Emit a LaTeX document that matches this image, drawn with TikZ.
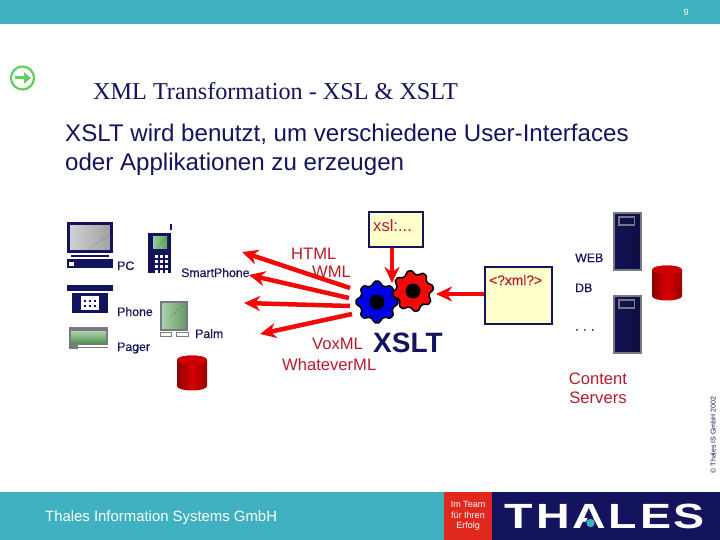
\documentclass[tikz,border=0pt]{standalone}
\usepackage{fontspec}
\setmainfont{Liberation Sans}
\newfontfamily\seriffont{Liberation Serif}
\newfontfamily\semibfont[FakeBold=0.35]{Liberation Sans}
\newfontfamily\logofont[LetterSpace=6]{Liberation Sans Bold}
\usetikzlibrary{arrows.meta,calc}
\definecolor{tealbar}{HTML}{3FB1C1}
\definecolor{navy}{HTML}{14145E}
\definecolor{dred}{HTML}{B81C2C}
\definecolor{aredd}{HTML}{F00A0A}
\definecolor{paleyel}{HTML}{FFFFCC}
\definecolor{footred}{HTML}{E0281E}
\definecolor{midgrey}{HTML}{787884}
\definecolor{icongreen}{HTML}{5ED05E}
\tikzset{
  lab/.style={anchor=base west,inner sep=0pt,text=navy,font=\semibfont\fontsize{12.3}{14}\selectfont},
  rlab/.style={anchor=base west,inner sep=0pt,text=dred,font=\fontsize{16.6}{19}\selectfont},
  bigarrow/.style={draw=aredd,line width=4.5pt,-{Stealth[length=16pt,width=15pt,inset=5pt]}},
  docbox/.style={draw=navy,line width=1.6pt,fill=paleyel,inner sep=0pt,minimum width=#1},
}
\newcommand{\mydrum}[4]{%
  \path[left color=red!55!black,right color=red!60!black,middle color=red!85!black]
    (#1,#2+5) -- (#1,#2+#4-5) .. controls (#1,#2+#4+1) and (#1+#3,#2+#4+1) .. (#1+#3,#2+#4-5)
    -- (#1+#3,#2+5) .. controls (#1+#3,#2-1) and (#1,#2-1) .. (#1,#2+5) -- cycle;
  \path[fill=red!80!black] (#1,#2+5) .. controls (#1,#2-1) and (#1+#3,#2-1) .. (#1+#3,#2+5)
    .. controls (#1+#3,#2+11) and (#1,#2+11) .. (#1,#2+5) -- cycle;
}
\newcommand{\mygear}[5]{%
  \draw[black,line width=1.6pt,fill=#4,line join=round]
    plot[variable=\t,domain=0:360,samples=145]
    ({#1+(#3+1.8*max(-1,min(1,1.3*cos(8*(\t+#5)))))*cos(\t)},{#2+(#3+1.8*max(-1,min(1,1.3*cos(8*(\t+#5)))))*sin(\t)}) -- cycle;
  \fill[black] (#1,#2) circle (7.5);
}
\newcommand{\myserver}[2]{%
  \path[draw=midgrey,line width=2pt,left color=navy!90!black,right color=navy!70!black]
    (#1,#2) rectangle (#1+27,#2+57);
  \draw[midgrey,line width=1.5pt] (#1+5.5,#2+4) rectangle (#1+21,#2+12);
}
\begin{document}
\begin{tikzpicture}[x=1pt,y=-1pt]
\useasboundingbox (0,0) rectangle (720,540);
\fill[white] (0,0) rectangle (720,540);
% bars
\fill[tealbar] (0,0) rectangle (720,24.5);
\fill[tealbar] (0,492) rectangle (444,540);
\fill[footred] (444,492) rectangle (492,540);
\fill[navy] (492,492) rectangle (720,540);
\node[anchor=base,inner sep=0pt,text=white,font=\fontsize{9}{10}\selectfont] (pageno) at (686,15.5) {9};
% go icon
\draw[icongreen,line width=2.2pt] (22.5,78) circle (11.5);
\draw[icongreen,line width=3pt,-{Triangle[length=7pt,width=11pt]}] (15,78) -- (31,78);
% titles
\node[anchor=base west,inner sep=0pt,text=navy,font=\seriffont\fontsize{24.2}{26}\selectfont] (title) at (93,100) {XML Transformation - XSL \& XSLT};
\node[anchor=base west,inner sep=0pt,text=navy,font=\fontsize{24.1}{26}\selectfont] (sub1) at (65,142) {XSLT wird benutzt, um verschiedene User-Interfaces};
\node[anchor=base west,inner sep=0pt,text=navy,font=\fontsize{24.1}{26}\selectfont] (sub2) at (65,171) {oder Applikationen zu erzeugen};
% PC icon
\path[draw=navy,line width=2.6pt,left color=gray!35,right color=gray!75] (68.3,223.3) rectangle (111.7,251.7);
\draw[black,dotted] (88,249) -- (109,235);
\fill[navy] (71,254.5) rectangle (109,257);
\fill[navy] (67,259) rectangle (113,268);
\fill[white] (69,262) rectangle (74,266);
% smartphone
\fill[navy] (148,233) rectangle (171,273);
\fill[navy] (170,224) rectangle (172,230);
\path[left color=green!30!gray!60,right color=gray!70!green] (153,236) rectangle (167,248);
\draw[black,dotted] (157,247) -- (166,238);
\foreach \i in {0,1,2} \foreach \j in {0,1,2,3}
  \fill[white] (154.5+\i*5,254.5+\j*5) rectangle +(3,3);
% phone
\fill[navy] (67,285) rectangle (113,291);
\fill[navy] (72,293) rectangle (108,313);
\fill[white] (81,296) rectangle (99,310);
\foreach \i in {0,1,2} \foreach \j in {0,1}
  \fill[navy] (84+\i*5,300+\j*5) rectangle +(2,2);
% pager
\fill[midgrey] (69,327) rectangle (108,349);
\path[top color=green!25!gray!50,bottom color=green!30!gray!90!black] (71,331) rectangle (106,343);
\fill[white] (78,345) rectangle (108,349);
\draw[gray] (78,347) -- (108,347);
% palm
\path[draw=midgrey,line width=1.8pt,left color=green!30!gray!50,right color=gray!80!green] (161,302) rectangle (187,330);
\draw[black,dotted] (170,317) -- (183,306);
\draw[gray] (160,332) rectangle (171,336);
\draw[gray] (176,332) rectangle (188,336);
% drums
\mydrum{177}{355}{30}{36}
\mydrum{652}{265}{30}{36}
% servers
\myserver{613.5}{213}
\myserver{613.5}{296}
% text labels
\node[lab] (lpc) at (117,270) {PC};
\node[lab] (lsmart) at (181,277) {SmartPhone};
\node[lab] (lphone) at (117,316) {Phone};
\node[lab] (lpalm) at (195,338) {Palm};
\node[lab] (lpager) at (117,351) {Pager};
\node[rlab] (lhtml) at (291,259) {HTML};
\node[rlab] (lwml) at (312,277) {WML};
\node[rlab] (lvox) at (312,349) {VoxML};
\node[rlab] (lwhat) at (282,370) {WhateverML};
\node[anchor=base west,inner sep=0pt,text=navy,font=\bfseries\fontsize{28}{30}\selectfont] (lxslt) at (373,352) {XSLT};
\node[lab] (lweb) at (575,262) {WEB};
\node[lab] (ldb) at (575,292) {DB};
\node[lab] (ldots) at (575,330.5) {. . .};
\node[rlab,anchor=base] (lcontent) at (598,384) {Content};
\node[rlab,anchor=base] (lservers) at (598,403) {Servers};
\node[anchor=base,rotate=90,inner sep=0pt,text=navy,font=\fontsize{7}{8}\selectfont] (lcopy) at (715.5,435) {© Thales IS GmbH 2002};
% doc boxes
\node[docbox=54pt,minimum height=35pt,anchor=north west] (xsl) at (368,211) {};
\node[inner sep=0pt,anchor=base west,text=dred,font=\fontsize{16.6}{18}\selectfont] (xsltxt) at (373,231) {xsl:...};
\node[docbox=67pt,minimum height=57pt,anchor=north west] (xml) at (484,266) {};
\node[inner sep=0pt,anchor=base west,text=dred,font=\semibfont\fontsize{13.8}{15}\selectfont] (xmltxt) at (489,285) {<?xml?>};
% gears
\mygear{377}{302}{19}{blue!90!black}{0}
\mygear{413}{291}{18.5}{aredd}{10}
% arrows
\coordinate (g1) at (350,288); \coordinate (t1) at (242,252);
\coordinate (g2) at (349,298); \coordinate (t2) at (249,275);
\coordinate (g3) at (350,306); \coordinate (t3) at (244,303);
\coordinate (g4) at (352,314); \coordinate (t4) at (260,334);
\coordinate (gx) at (392,283); \coordinate (gm) at (436,294);
\draw[bigarrow] (g1) -- (t1);
\draw[bigarrow] (g2) -- (t2);
\draw[bigarrow] (g3) -- (t3);
\draw[bigarrow] (g4) -- (t4);
\draw[bigarrow] (xsl.south west |- xsl.south) ++(24,0) coordinate (xs) (xs) -- (gx);
\draw[bigarrow] (xml.west |- gm) -- (gm);
% footer text
\node[anchor=base west,inner sep=0pt,text=white,font=\fontsize{14.9}{16}\selectfont] (ftxt) at (45,521) {Thales Information Systems GmbH};
\node[anchor=center,align=center,inner sep=0pt,text=white,font=\fontsize{9}{10.5}\selectfont] (motto) at (468,516) {Im Team\\für Ihren\\Erfolg};
\node[anchor=center,inner sep=0pt,text=white,xscale=1.33,font=\logofont\fontsize{35}{36}\selectfont] (logo) at (605,516) {THALES};
\fill[navy] (590.5,513) -- (582,529) -- (599,529) -- cycle;
\fill[tealbar] (590.5,523) circle (4.2);
\end{tikzpicture}
\end{document}
